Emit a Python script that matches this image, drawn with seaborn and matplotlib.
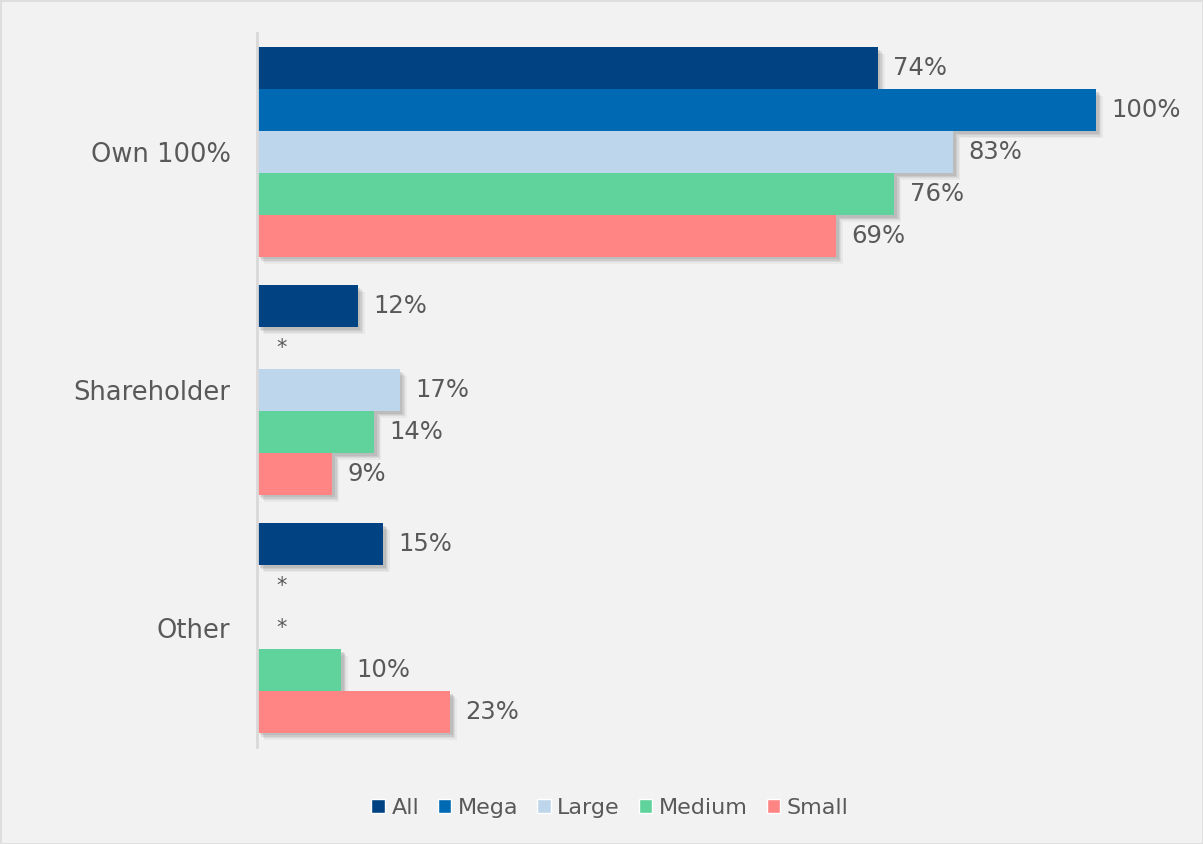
import numpy as np
import pandas as pd
import matplotlib
matplotlib.use("Agg")
import matplotlib.pyplot as plt
import matplotlib.patheffects as pe
import seaborn as sns

# Share of respondents by ownership type and company size (percent); NaN = not reported
categories = ["Own 100%", "Shareholder", "Other"]
sizes = ["All", "Mega", "Large", "Medium", "Small"]
all_vals = [74, 12, 15]
mega_vals = [100, np.nan, np.nan]
large_vals = [83, 17, np.nan]
medium_vals = [76, 14, 10]
small_vals = [69, 9, 23]

palette = {"All": "#004282", "Mega": "#0069b4", "Large": "#bed6eb",
           "Medium": "#5fd39b", "Small": "#ff8585"}
text_color = "#595959"
bg = "#f2f2f2"

rows = []
for size, vals in zip(sizes, [all_vals, mega_vals, large_vals, medium_vals, small_vals]):
    for cat, v in zip(categories, vals):
        rows.append({"category": cat, "size": size, "value": v})
df = pd.DataFrame(rows)
plot_df = df.dropna()

sns.set_style("white")
plt.rcParams["font.family"] = ["DejaVu Sans"]

fig = plt.figure(figsize=(12.03, 8.44), dpi=100, facecolor=bg)
fig.patch.set_edgecolor("#dedede")
fig.patch.set_linewidth(1.0)
ax = fig.add_axes([0.2136, 0.115, 0.767, 0.846])
ax.set_facecolor(bg)

width = 0.88
sns.barplot(data=plot_df, y="category", x="value", hue="size",
            order=categories, hue_order=sizes, palette=palette,
            orient="h", width=width, ax=ax, saturation=1, legend=True)

# Soft drop shadow built from a few stacked offsets
shadow = [pe.SimplePatchShadow(offset=(5, -5), shadow_rgbFace="#7a7a7a", alpha=0.08),
          pe.SimplePatchShadow(offset=(4, -4), shadow_rgbFace="#7a7a7a", alpha=0.12),
          pe.SimplePatchShadow(offset=(3, -3), shadow_rgbFace="#7a7a7a", alpha=0.15),
          pe.SimplePatchShadow(offset=(2, -2), shadow_rgbFace="#7a7a7a", alpha=0.18),
          pe.Normal()]
for container in ax.containers:
    for bar in container:
        bar.set_path_effects(shadow)
        bar.set_edgecolor("none")
    ax.bar_label(container, fmt="%.0f%%", padding=11, fontsize=17.5, color=text_color)

# Asterisk for sizes with no reported value
n = len(sizes)
for _, r in df[df["value"].isna()].iterrows():
    ci = categories.index(r["category"])
    hi = sizes.index(r["size"])
    ypos = ci - width / 2 + (hi + 0.5) * width / n
    ax.annotate("*", xy=(0, ypos), xytext=(14, 0), textcoords="offset points",
                ha="left", va="center", fontsize=15, color=text_color)

ax.set_xlim(0, 110)
ax.set_ylim(2.5, -0.5)
ax.set_xlabel("")
ax.set_ylabel("")
ax.set_xticks([])
ax.tick_params(axis="y", length=0, pad=19, labelsize=18.5, labelcolor=text_color)
for s in ["top", "right", "bottom"]:
    ax.spines[s].set_visible(False)
ax.spines["left"].set_color("#d9d9d9")
ax.spines["left"].set_linewidth(2)

handles, labels = ax.get_legend_handles_labels()
ax.legend(handles, labels, loc="center", bbox_to_anchor=(0.507, 1 - 808 / 844),
          bbox_transform=fig.transFigure, ncol=5, frameon=False,
          handlelength=0.6, handleheight=0.6, handletextpad=0.3, columnspacing=0.85,
          fontsize=16, labelcolor=text_color)

fig.savefig("out.png", dpi=100, facecolor=bg, edgecolor=fig.get_edgecolor())
